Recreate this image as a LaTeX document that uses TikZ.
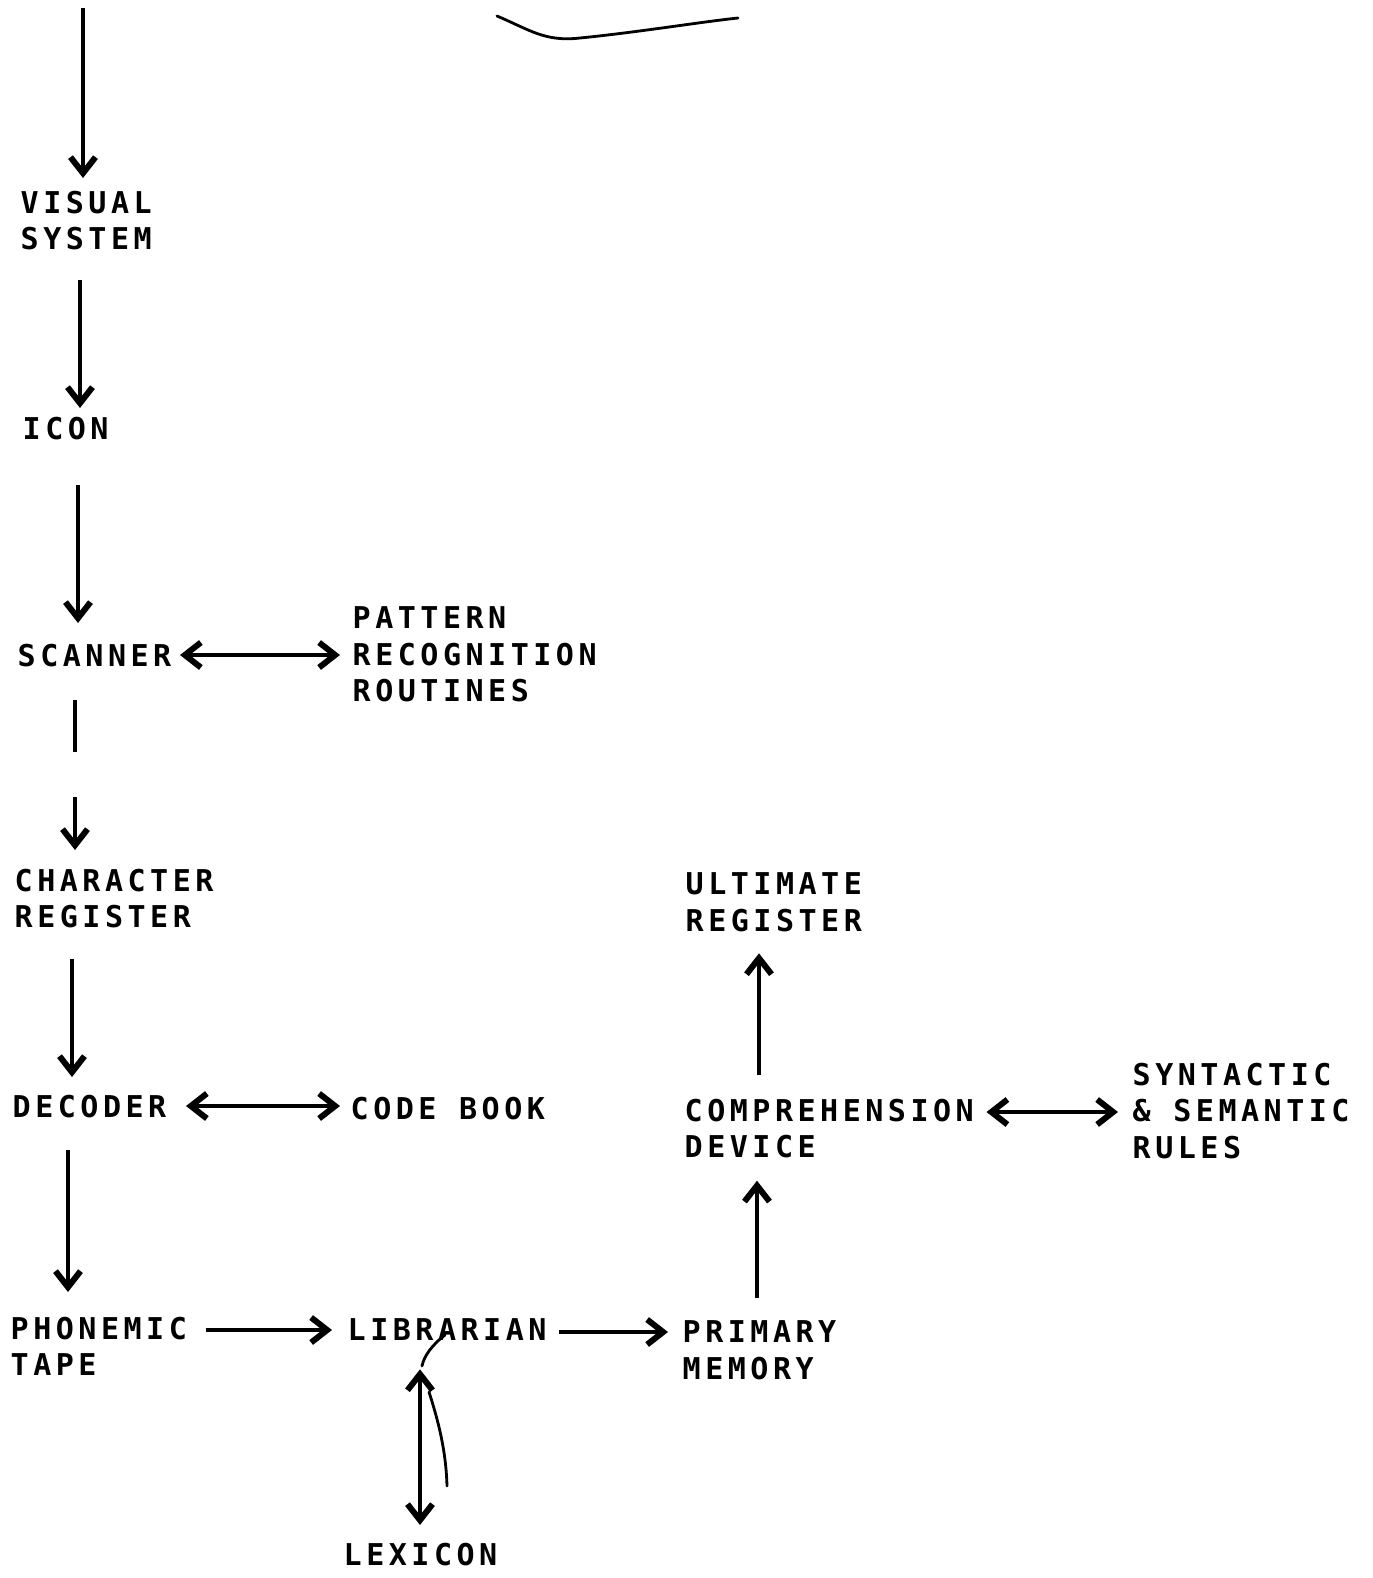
\documentclass[tikz,border=0pt]{standalone}
\usepackage{fontspec}
\usetikzlibrary{arrows.meta}
\newfontfamily\plotfont[LetterSpace=15]{DejaVu Sans Mono Bold}
\begin{document}
\begin{tikzpicture}[x=0.01cm,y=-0.01cm,
  lbl/.style={anchor=north west,inner sep=0pt,align=left,font=\plotfont\fontsize{8.54pt}{10.4pt}\selectfont},
  arr/.style={line width=1.2pt,-{Straight Barb[length=1.6mm,width=2.5mm,line width=1.7pt]}},
  darr/.style={line width=1.2pt,{Straight Barb[length=1.6mm,width=2.5mm,line width=1.7pt]}-{Straight Barb[length=1.6mm,width=2.5mm,line width=1.7pt]}},
  pencil/.style={line width=0.8pt,line cap=round}]
\useasboundingbox (0,0) rectangle (1373,1578);
% texts
\node[lbl] (vis) at (20,190) {VISUAL\\SYSTEM};
\node[lbl] (icon) at (22,416) {ICON};
\node[lbl] (scan) at (17,643) {SCANNER};
\node[lbl] (pat) at (352,606) {PATTERN\\RECOGNITION\\ROUTINES};
\node[lbl] (chr) at (14,868) {CHARACTER\\REGISTER};
\node[lbl] (dec) at (12,1094) {DECODER};
\node[lbl] (code) at (350,1096) {CODE BOOK};
\node[lbl] (pho) at (10,1316) {PHONEMIC\\TAPE};
\node[lbl] (lib) at (347,1318) {LIBRARIAN};
\node[lbl] (lex) at (343,1542) {LEXICON};
\node[lbl] (prim) at (682,1320) {PRIMARY\\MEMORY};
\node[lbl] (comp) at (684,1098) {COMPREHENSION\\DEVICE};
\node[lbl] (syn) at (1132,1062) {SYNTACTIC\\\& SEMANTIC\\RULES};
\node[lbl] (ult) at (685,872) {ULTIMATE\\REGISTER};
% connectors
\coordinate (in) at (83,8);
\draw[arr,shorten >=0.12cm] (in) -- (vis.north -| in);
\draw[arr,shorten <=0.29cm,shorten >=0.08cm] (vis.south -| 80,0) -- (icon.north -| 80,0);
\draw[arr,shorten <=0.45cm,shorten >=0.2cm] (icon.south -| 78,0) -- (scan.north -| 78,0);
\draw[darr,shorten <=0.08cm,shorten >=0.12cm] (scan.east |- 0,655) -- (pat.west |- 0,655);
\draw[arr,dash pattern=on 0.52cm off 0.45cm on 2cm,shorten <=0.33cm,shorten >=0.18cm] (scan.south -| 75,0) -- (chr.north -| 75,0);
\draw[arr,shorten <=0.3cm,shorten >=0.17cm] (chr.south -| 72,0) -- (dec.north -| 72,0);
\draw[darr,shorten <=0.19cm,shorten >=0.1cm] (dec.east |- 0,1106) -- (code.west |- 0,1106);
\draw[arr,shorten <=0.32cm,shorten >=0.24cm] (dec.south -| 68,0) -- (pho.north -| 68,0);
\draw[arr,shorten <=0.18cm,shorten >=0.15cm] (pho.east |- 0,1330) -- (lib.west |- 0,1330);
\draw[arr,shorten <=0.12cm,shorten >=0.14cm] (lib.east |- 0,1332) -- (prim.west |- 0,1332);
\draw[darr,shorten <=0.28cm,shorten >=0.17cm] (lib.south -| 420,0) -- (lex.north -| 420,0);
\draw[arr,shorten <=0.22cm,shorten >=0.22cm] (prim.north -| 757,0) -- (comp.south -| 757,0);
\draw[arr,shorten <=0.23cm,shorten >=0.21cm] (comp.north -| 759,0) -- (ult.south -| 759,0);
\draw[darr,shorten <=0.12cm,shorten >=0.14cm] (comp.east |- 0,1112) -- (syn.west |- 0,1112);
% pencil marks
\draw[pencil] (497,16) .. controls (530,30) and (545,42) .. (580,38) .. controls (640,32) and (700,22) .. (738,18);
\draw[pencil] (445,1335) .. controls (432,1345) and (424,1356) .. (422,1366);
\draw[pencil] (429,1392) .. controls (438,1420) and (446,1450) .. (447,1486);
\end{tikzpicture}
\end{document}
